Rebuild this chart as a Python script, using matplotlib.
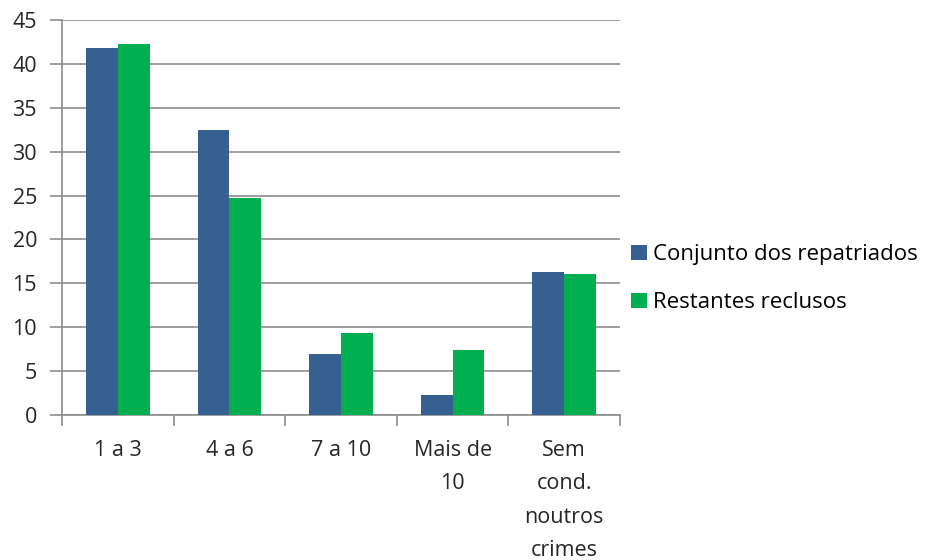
import matplotlib.pyplot as plt
import numpy as np

categories = ["1 a 3", "4 a 6", "7 a 10", "Mais de\n10", "Sem\ncond.\nnoutros\ncrimes"]
repatriados = [41.8, 32.5, 6.9, 2.3, 16.3]
restantes = [42.3, 24.7, 9.3, 7.4, 16.1]
series_names = ["Conjunto dos repatriados", "Restantes reclusos"]

plt.rcParams["font.family"] = ["Open Sans", "DejaVu Sans"]

fig = plt.figure(figsize=(9.32, 5.6), dpi=100)
ax = fig.add_axes([62 / 932, 1 - 415 / 560, 558 / 932, 395 / 560])

x = np.arange(len(categories))
w = 0.285
ax.bar(x - w / 2, repatriados, w, color="#366092", label=series_names[0], zorder=3)
ax.bar(x + w / 2, restantes, w, color="#00B050", label=series_names[1], zorder=3)

ax.set_xlim(-0.5, len(categories) - 0.5)
ax.set_ylim(0, 45)
ax.set_yticks(np.arange(0, 46, 5))
ax.yaxis.grid(True, color="#8c8c8c", linewidth=1.2, zorder=0)

ax.set_xticks(x)
ax.set_xticklabels(categories, fontsize=15.5, color="#262626", linespacing=1.78, va="top")
ax.set_xticks(np.arange(-0.5, len(categories), 1), minor=True)
ax.tick_params(axis="x", which="major", length=0, pad=18)
ax.tick_params(axis="x", which="minor", length=8, color="#8c8c8c", width=1.2)
ax.tick_params(axis="y", length=9, color="#8c8c8c", width=1.2, labelsize=15.5,
               labelcolor="#262626", pad=9)

for s in ["top", "right"]:
    ax.spines[s].set_visible(False)
for s in ["left", "bottom"]:
    ax.spines[s].set_color("#8c8c8c")
    ax.spines[s].set_linewidth(1.2)

ax.legend(loc="center left", bbox_to_anchor=(1.0, 0.345), frameon=False, fontsize=16,
          handlelength=0.7, handleheight=0.7, handletextpad=0.3, labelspacing=1.2,
          borderaxespad=0.1)

fig.savefig("out.png", dpi=100)
